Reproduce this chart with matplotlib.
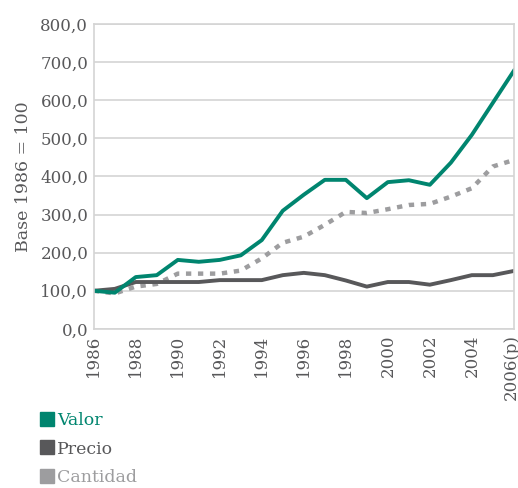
import matplotlib
matplotlib.use("Agg")
import matplotlib.pyplot as plt
from matplotlib.lines import Line2D
import matplotlib.transforms as mtransforms

years = list(range(1986, 2007))
tick_labels = ["1986", "1988", "1990", "1992", "1994", "1996", "1998",
               "2000", "2002", "2004", "2006(p)"]
valor = [100, 95, 136, 141, 181, 176, 181, 193, 233, 310, 352, 391, 391,
         343, 385, 390, 378, 436, 509, 593, 677]
precio = [100, 105, 123, 123, 123, 123, 128, 128, 128, 141, 147, 141, 127,
          111, 123, 123, 116, 128, 141, 141, 152]
cantidad = [100, 93, 111, 118, 145, 145, 145, 153, 185, 226, 242, 273, 307,
            304, 314, 325, 328, 347, 369, 426, 443]

GREEN = "#00856f"
DARK = "#58585a"
LIGHT = "#9d9d9f"
TXT = "#58585a"

plt.rcParams['font.family'] = ['DejaVu Serif']

fig = plt.figure(figsize=(5.18, 4.88), dpi=100)
ax = fig.add_axes([0.181, 0.326, 0.811, 0.625])

ax.plot(years, cantidad, color=LIGHT, lw=3.2, dashes=(1.2, 1.5), solid_capstyle='butt')
ax.plot(years, precio, color=DARK, lw=2.8)
ax.plot(years, valor, color=GREEN, lw=2.8)

ax.set_xlim(1986, 2006)
ax.set_ylim(0, 800)
ax.set_yticks(range(0, 801, 100))
ax.set_yticklabels([f"{v},0" for v in range(0, 801, 100)])
ax.set_xticks(list(range(1986, 2007, 2)))
ax.set_xticklabels(tick_labels, rotation=90)
ax.grid(axis='y', color='#d4d4d4', lw=1.2)
ax.set_axisbelow(True)
for s in ax.spines.values():
    s.set_color('#d4d4d4')
    s.set_linewidth(1.2)
ax.tick_params(length=0, labelsize=12, colors=TXT, pad=4)
ax.set_ylabel("Base 1986 = 100", fontsize=12.5, color=TXT, labelpad=6)

last = ax.get_xticklabels()[-1]
last.set_transform(last.get_transform() + mtransforms.ScaledTranslation(-3/100, 0, fig.dpi_scale_trans))

handles = [Line2D([], [], ls='none', marker='s', markersize=10, color=c) for c in (GREEN, DARK, LIGHT)]
leg = fig.legend(handles, ["Valor", "Precio", "Cantidad"], loc='upper left',
                 bbox_to_anchor=(0.06, 0.174), frameon=False, fontsize=12.5,
                 handlelength=0.8, handletextpad=0.2, labelspacing=0.68,
                 borderpad=0, labelcolor=[GREEN, DARK, LIGHT])
fig.savefig("out.png", dpi=100)
